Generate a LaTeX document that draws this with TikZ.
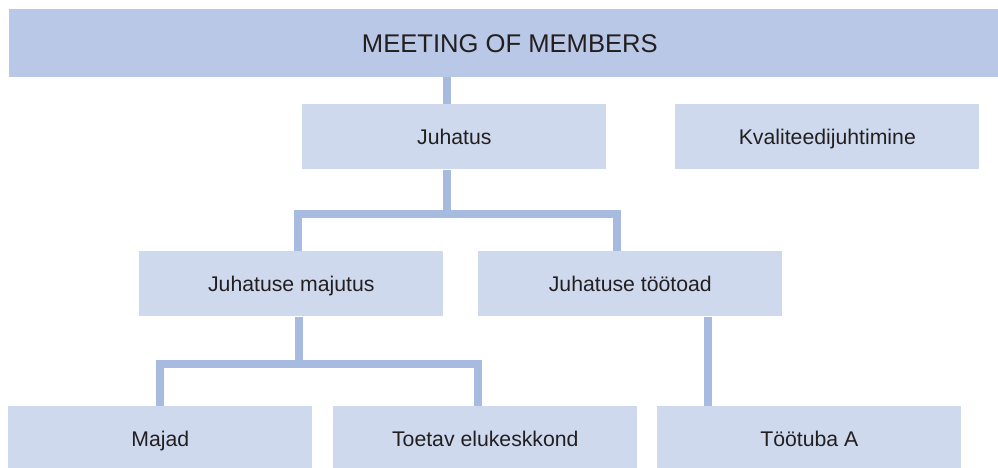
\documentclass[tikz,border=0pt]{standalone}
\usepackage{fontspec}
\setmainfont{Liberation Sans}
\usetikzlibrary{positioning}
\definecolor{barfill}{HTML}{B9C8E6}
\definecolor{boxfill}{HTML}{CED9EE}
\definecolor{linkblue}{HTML}{A7BBE1}
\definecolor{textgray}{HTML}{231F20}

\begin{document}
\begin{tikzpicture}[
    x=0.025cm, y=-0.025cm,
    header/.style={rectangle, fill=barfill, inner sep=0pt, minimum width=24.725cm, minimum height=1.7cm, text height=13pt, text depth=0pt, text=textgray, font=\fontsize{18.2}{22}\selectfont, text centered},
    unit/.style={rectangle, fill=boxfill, inner sep=0pt, minimum width=7.6cm, minimum height=1.625cm, text height=10.8pt, text depth=0pt, text=textgray, font=\fontsize{15.1}{18}\selectfont, text centered},
    link/.style={draw=linkblue, line width=5.69pt, line join=miter},
]
    \useasboundingbox (0,0) rectangle (998,467);

    % Junction points of the links
    \coordinate (top) at (447,77);
    \coordinate (hub1) at (447,214);
    \coordinate (bus1L) at (298,214);
    \coordinate (bus1R) at (617,214);
    \coordinate (hub2) at (298.5,364);
    \coordinate (bus2L) at (159.5,364);
    \coordinate (bus2R) at (477.5,364);
    \coordinate (drop) at (707.5,316);

    % Meeting of members
    \node[header] (meeting) at (503.5,43) {\hspace*{9pt}MEETING OF MEMBERS};

    % Board and quality
    \node[unit, anchor=north west] (board) at (302,104) {Juhatus};
    \node[unit, anchor=north west] (quality) at (675,104) {Kvaliteedijuhtimine};

    % Board units
    \node[unit, anchor=north west] (housing) at (139,251) {Juhatuse majutus};
    \node[unit, anchor=north west] (workshops) at (478,251) {Juhatuse töötoad};

    % Services
    \node[unit, anchor=north west] (houses) at (8,406) {Majad};
    \node[unit, anchor=north west] (living) at (333,406) {Toetav elukeskkond};
    \node[unit, anchor=north west] (workshopA) at (657,406) {Töötuba A};

    % Links
    \draw[link] (top |- meeting.south) -- (top |- board.north);
    \draw[link] (hub1 |- board.south) -- (hub1);
    \draw[link] (bus1L |- housing.north) -- (bus1L) -- (bus1R) -- (bus1R |- workshops.north);
    \draw[link] (hub2 |- housing.south) -- (hub2);
    \draw[link] (bus2L |- houses.north) -- (bus2L) -- (bus2R) -- (bus2R |- living.north);
    \draw[link] (drop |- workshops.south) -- (drop |- workshopA.north);
\end{tikzpicture}
\end{document}
